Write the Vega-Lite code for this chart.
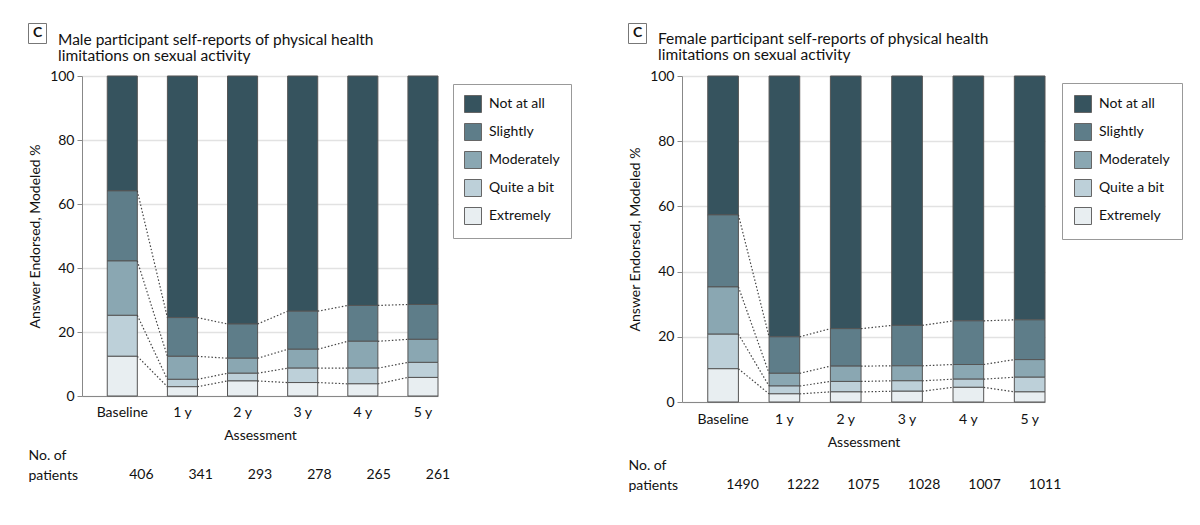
{
  "$schema": "https://vega.github.io/schema/vega-lite/v6.json",
  "background": "white",
  "padding": {"left": 27, "top": 22, "right": 5, "bottom": 5},
  "config": {
    "font": "Lato",
    "view": {"stroke": null},
    "axis": {"labelFont": "Lato", "titleFont": "Lato", "labelFontSize": 14, "titleFontSize": 14, "labelColor": "#111", "titleColor": "#111", "titleFontWeight": "normal", "domainColor": "#888", "tickColor": "#888"},
    "legend": {"padding": 11, "strokeColor": "#999", "strokeWidth": 1, "symbolType": "square", "symbolSize": 289, "symbolStrokeColor": "#666", "symbolStrokeWidth": 1, "symbolOpacity": 1, "labelFontSize": 14, "labelFont": "Lato", "labelColor": "#111", "rowPadding": 6, "labelOffset": 7, "title": null}
  },
  "datasets": {
    "bars": [
      {"sex": "Male", "time": "Baseline", "year": 0, "level": "Not at all", "value": 35.9},
      {"sex": "Male", "time": "Baseline", "year": 0, "level": "Slightly", "value": 21.9},
      {"sex": "Male", "time": "Baseline", "year": 0, "level": "Moderately", "value": 17.0},
      {"sex": "Male", "time": "Baseline", "year": 0, "level": "Quite a bit", "value": 12.8},
      {"sex": "Male", "time": "Baseline", "year": 0, "level": "Extremely", "value": 12.4},
      {"sex": "Male", "time": "1 y", "year": 1, "level": "Not at all", "value": 75.5},
      {"sex": "Male", "time": "1 y", "year": 1, "level": "Slightly", "value": 12.1},
      {"sex": "Male", "time": "1 y", "year": 1, "level": "Moderately", "value": 7.2},
      {"sex": "Male", "time": "1 y", "year": 1, "level": "Quite a bit", "value": 2.3},
      {"sex": "Male", "time": "1 y", "year": 1, "level": "Extremely", "value": 2.9},
      {"sex": "Male", "time": "2 y", "year": 2, "level": "Not at all", "value": 77.5},
      {"sex": "Male", "time": "2 y", "year": 2, "level": "Slightly", "value": 10.7},
      {"sex": "Male", "time": "2 y", "year": 2, "level": "Moderately", "value": 4.7},
      {"sex": "Male", "time": "2 y", "year": 2, "level": "Quite a bit", "value": 2.4},
      {"sex": "Male", "time": "2 y", "year": 2, "level": "Extremely", "value": 4.7},
      {"sex": "Male", "time": "3 y", "year": 3, "level": "Not at all", "value": 73.5},
      {"sex": "Male", "time": "3 y", "year": 3, "level": "Slightly", "value": 11.9},
      {"sex": "Male", "time": "3 y", "year": 3, "level": "Moderately", "value": 5.9},
      {"sex": "Male", "time": "3 y", "year": 3, "level": "Quite a bit", "value": 4.5},
      {"sex": "Male", "time": "3 y", "year": 3, "level": "Extremely", "value": 4.2},
      {"sex": "Male", "time": "4 y", "year": 4, "level": "Not at all", "value": 71.7},
      {"sex": "Male", "time": "4 y", "year": 4, "level": "Slightly", "value": 11.2},
      {"sex": "Male", "time": "4 y", "year": 4, "level": "Moderately", "value": 8.4},
      {"sex": "Male", "time": "4 y", "year": 4, "level": "Quite a bit", "value": 4.9},
      {"sex": "Male", "time": "4 y", "year": 4, "level": "Extremely", "value": 3.8},
      {"sex": "Male", "time": "5 y", "year": 5, "level": "Not at all", "value": 71.4},
      {"sex": "Male", "time": "5 y", "year": 5, "level": "Slightly", "value": 10.9},
      {"sex": "Male", "time": "5 y", "year": 5, "level": "Moderately", "value": 7.2},
      {"sex": "Male", "time": "5 y", "year": 5, "level": "Quite a bit", "value": 4.7},
      {"sex": "Male", "time": "5 y", "year": 5, "level": "Extremely", "value": 5.8},
      {"sex": "Female", "time": "Baseline", "year": 0, "level": "Not at all", "value": 42.6},
      {"sex": "Female", "time": "Baseline", "year": 0, "level": "Slightly", "value": 22.1},
      {"sex": "Female", "time": "Baseline", "year": 0, "level": "Moderately", "value": 14.5},
      {"sex": "Female", "time": "Baseline", "year": 0, "level": "Quite a bit", "value": 10.6},
      {"sex": "Female", "time": "Baseline", "year": 0, "level": "Extremely", "value": 10.2},
      {"sex": "Female", "time": "1 y", "year": 1, "level": "Not at all", "value": 80.0},
      {"sex": "Female", "time": "1 y", "year": 1, "level": "Slightly", "value": 11.2},
      {"sex": "Female", "time": "1 y", "year": 1, "level": "Moderately", "value": 3.9},
      {"sex": "Female", "time": "1 y", "year": 1, "level": "Quite a bit", "value": 2.4},
      {"sex": "Female", "time": "1 y", "year": 1, "level": "Extremely", "value": 2.5},
      {"sex": "Female", "time": "2 y", "year": 2, "level": "Not at all", "value": 77.5},
      {"sex": "Female", "time": "2 y", "year": 2, "level": "Slightly", "value": 11.5},
      {"sex": "Female", "time": "2 y", "year": 2, "level": "Moderately", "value": 4.7},
      {"sex": "Female", "time": "2 y", "year": 2, "level": "Quite a bit", "value": 3.2},
      {"sex": "Female", "time": "2 y", "year": 2, "level": "Extremely", "value": 3.1},
      {"sex": "Female", "time": "3 y", "year": 3, "level": "Not at all", "value": 76.5},
      {"sex": "Female", "time": "3 y", "year": 3, "level": "Slightly", "value": 12.4},
      {"sex": "Female", "time": "3 y", "year": 3, "level": "Moderately", "value": 4.6},
      {"sex": "Female", "time": "3 y", "year": 3, "level": "Quite a bit", "value": 3.2},
      {"sex": "Female", "time": "3 y", "year": 3, "level": "Extremely", "value": 3.3},
      {"sex": "Female", "time": "4 y", "year": 4, "level": "Not at all", "value": 75.1},
      {"sex": "Female", "time": "4 y", "year": 4, "level": "Slightly", "value": 13.4},
      {"sex": "Female", "time": "4 y", "year": 4, "level": "Moderately", "value": 4.5},
      {"sex": "Female", "time": "4 y", "year": 4, "level": "Quite a bit", "value": 2.5},
      {"sex": "Female", "time": "4 y", "year": 4, "level": "Extremely", "value": 4.5},
      {"sex": "Female", "time": "5 y", "year": 5, "level": "Not at all", "value": 74.8},
      {"sex": "Female", "time": "5 y", "year": 5, "level": "Slightly", "value": 12.2},
      {"sex": "Female", "time": "5 y", "year": 5, "level": "Moderately", "value": 5.4},
      {"sex": "Female", "time": "5 y", "year": 5, "level": "Quite a bit", "value": 4.5},
      {"sex": "Female", "time": "5 y", "year": 5, "level": "Extremely", "value": 3.1}
    ],
    "patients": [
      {"sex": "Male", "time": "Baseline", "n": 406},
      {"sex": "Male", "time": "1 y", "n": 341},
      {"sex": "Male", "time": "2 y", "n": 293},
      {"sex": "Male", "time": "3 y", "n": 278},
      {"sex": "Male", "time": "4 y", "n": 265},
      {"sex": "Male", "time": "5 y", "n": 261},
      {"sex": "Female", "time": "Baseline", "n": 1490},
      {"sex": "Female", "time": "1 y", "n": 1222},
      {"sex": "Female", "time": "2 y", "n": 1075},
      {"sex": "Female", "time": "3 y", "n": 1028},
      {"sex": "Female", "time": "4 y", "n": 1007},
      {"sex": "Female", "time": "5 y", "n": 1011}
    ]
  },
  "spacing": 55,
  "resolve": {"scale": {"color": "independent", "shape": "independent", "x": "independent", "y": "independent"}, "legend": {"color": "independent", "shape": "independent"}},
  "hconcat": [
    {
      "spacing": 6,
      "resolve": {"scale": {"x": "independent", "y": "independent"}},
      "vconcat": [
        {
          "width": 356, "height": 320,
          "title": {"text": ["Male participant self-reports of physical health", "limitations on sexual activity"], "anchor": "start", "frame": "group", "dx": -24, "fontSize": 15.5, "fontWeight": "normal", "color": "#111", "offset": 5, "lineHeight": 16},
          "data": {"name": "bars"},
          "transform": [
            {"filter": "datum.sex === 'Male'"},
            {"calculate": "indexof(['Extremely','Quite a bit','Moderately','Slightly','Not at all'], datum.level)", "as": "rank"},
            {"stack": "value", "groupby": ["time"], "sort": [{"field": "rank"}], "as": ["c0", "c1"]}
          ],
          "layer": [
            {
              "mark": {"type": "bar", "stroke": "#555", "strokeWidth": 1},
              "encoding": {
                "x": {"field": "time", "type": "ordinal", "title": "Assessment",
                  "scale": {"domain": ["Baseline", "1 y", "2 y", "3 y", "4 y", "5 y"], "paddingInner": 0.5, "paddingOuter": 0.21, "align": 1},
                  "axis": {"labelAngle": 0, "ticks": false, "labelPadding": 9, "titlePadding": 9}},
                "y": {"field": "c0", "type": "quantitative", "title": "Answer Endorsed, Modeled %",
                  "scale": {"domain": [0, 100]},
                  "axis": {"values": [0, 20, 40, 60, 80, 100], "tickSize": 5, "labelPadding": 3, "titlePadding": 7, "gridColor": "#e2e2e2", "gridWidth": 1.5}},
                "y2": {"field": "c1"},
                "color": {"field": "level", "type": "nominal",
                  "scale": {"domain": ["Not at all", "Slightly", "Moderately", "Quite a bit", "Extremely"], "range": ["#36535e", "#5e7d89", "#8aa7b2", "#bdd0d9", "#e8eef1"]},
                  "legend": {"orient": "none", "legendX": 371, "legendY": 8}}
              }
            },
            {
              "transform": [
                {"filter": "datum.level !== 'Not at all'"},
                {"window": [{"op": "lead", "field": "c1", "as": "n1"}, {"op": "lead", "field": "time", "as": "ntime"}], "groupby": ["level"], "sort": [{"field": "year"}]},
                {"filter": "isValid(datum.ntime)"}
              ],
              "mark": {"type": "rule", "strokeDash": [1.5, 2], "color": "#444", "strokeWidth": 1.2},
              "encoding": {
                "x": {"field": "time", "type": "ordinal", "bandPosition": 1},
                "x2": {"field": "ntime", "bandPosition": 0},
                "y": {"field": "c1", "type": "quantitative"},
                "y2": {"field": "n1"}
              }
            },
            {
              "mark": {"type": "point", "opacity": 0, "size": 0},
              "encoding": {
                "shape": {"datum": "C", "type": "nominal",
                  "legend": {"orient": "none", "legendX": -54, "legendY": -53, "padding": 3, "symbolSize": 0, "symbolOpacity": 0, "symbolStrokeWidth": 0, "labelOffset": -12, "labelFontSize": 14, "labelFontWeight": "bold", "strokeColor": "#777", "title": null}}
              }
            }
          ]
        },
        {
          "width": 356, "height": 30,
          "data": {"name": "patients"},
          "transform": [{"filter": "datum.sex === 'Male'"}],
          "mark": {"type": "text", "fontSize": 14, "baseline": "bottom", "color": "#111"},
          "encoding": {
            "x": {"field": "time", "type": "ordinal", "axis": null,
              "scale": {"domain": ["Baseline", "1 y", "2 y", "3 y", "4 y", "5 y"], "paddingInner": 0.5, "paddingOuter": 0.21, "align": 1}},
            "y": {"datum": "No. of patients", "type": "nominal",
              "axis": {"title": null, "domain": false, "ticks": false, "grid": false, "labelAlign": "left", "labelPadding": 54, "labelOffset": -20, "labelExpr": "['No. of', 'patients']", "labelBaseline": "bottom", "labelLineHeight": 20}},
            "text": {"field": "n"}
          }
        }
      ]
    },
    {
      "spacing": 9,
      "resolve": {"scale": {"x": "independent", "y": "independent"}},
      "vconcat": [
        {
          "width": 363, "height": 326,
          "title": {"text": ["Female participant self-reports of physical health", "limitations on sexual activity"], "anchor": "start", "frame": "group", "dx": -24, "fontSize": 15.5, "fontWeight": "normal", "color": "#111", "offset": 6, "lineHeight": 16},
          "data": {"name": "bars"},
          "transform": [
            {"filter": "datum.sex === 'Female'"},
            {"calculate": "indexof(['Extremely','Quite a bit','Moderately','Slightly','Not at all'], datum.level)", "as": "rank"},
            {"stack": "value", "groupby": ["time"], "sort": [{"field": "rank"}], "as": ["c0", "c1"]}
          ],
          "layer": [
            {
              "mark": {"type": "bar", "stroke": "#555", "strokeWidth": 1},
              "encoding": {
                "x": {"field": "time", "type": "ordinal", "title": "Assessment",
                  "scale": {"domain": ["Baseline", "1 y", "2 y", "3 y", "4 y", "5 y"], "paddingInner": 0.5, "paddingOuter": 0.21, "align": 1},
                  "axis": {"labelAngle": 0, "ticks": false, "labelPadding": 10, "titlePadding": 9}},
                "y": {"field": "c0", "type": "quantitative", "title": "Answer Endorsed, Modeled %",
                  "scale": {"domain": [0, 100]},
                  "axis": {"values": [0, 20, 40, 60, 80, 100], "tickSize": 5, "labelPadding": 3, "titlePadding": 7, "gridColor": "#e2e2e2", "gridWidth": 1.5}},
                "y2": {"field": "c1"},
                "color": {"field": "level", "type": "nominal",
                  "scale": {"domain": ["Not at all", "Slightly", "Moderately", "Quite a bit", "Extremely"], "range": ["#36535e", "#5e7d89", "#8aa7b2", "#bdd0d9", "#e8eef1"]},
                  "legend": {"orient": "none", "legendX": 380, "legendY": 7, "labelFontSize": 14, "padding": 12}}
              }
            },
            {
              "transform": [
                {"filter": "datum.level !== 'Not at all'"},
                {"window": [{"op": "lead", "field": "c1", "as": "n1"}, {"op": "lead", "field": "time", "as": "ntime"}], "groupby": ["level"], "sort": [{"field": "year"}]},
                {"filter": "isValid(datum.ntime)"}
              ],
              "mark": {"type": "rule", "strokeDash": [1.5, 2], "color": "#444", "strokeWidth": 1.2},
              "encoding": {
                "x": {"field": "time", "type": "ordinal", "bandPosition": 1},
                "x2": {"field": "ntime", "bandPosition": 0},
                "y": {"field": "c1", "type": "quantitative"},
                "y2": {"field": "n1"}
              }
            },
            {
              "mark": {"type": "point", "opacity": 0, "size": 0},
              "encoding": {
                "shape": {"datum": "C", "type": "nominal",
                  "legend": {"orient": "none", "legendX": -54, "legendY": -53, "padding": 3, "symbolSize": 0, "symbolOpacity": 0, "symbolStrokeWidth": 0, "labelOffset": -12, "labelFontSize": 14, "labelFontWeight": "bold", "strokeColor": "#777", "title": null}}
              }
            }
          ]
        },
        {
          "width": 363, "height": 30,
          "data": {"name": "patients"},
          "transform": [{"filter": "datum.sex === 'Female'"}],
          "mark": {"type": "text", "fontSize": 14, "baseline": "bottom", "color": "#111"},
          "encoding": {
            "x": {"field": "time", "type": "ordinal", "axis": null,
              "scale": {"domain": ["Baseline", "1 y", "2 y", "3 y", "4 y", "5 y"], "paddingInner": 0.5, "paddingOuter": 0.21, "align": 1}},
            "y": {"datum": "No. of patients", "type": "nominal",
              "axis": {"title": null, "domain": false, "ticks": false, "grid": false, "labelAlign": "left", "labelPadding": 54, "labelOffset": -20, "labelExpr": "['No. of', 'patients']", "labelBaseline": "bottom", "labelLineHeight": 20}},
            "text": {"field": "n"}
          }
        }
      ]
    }
  ]
}
